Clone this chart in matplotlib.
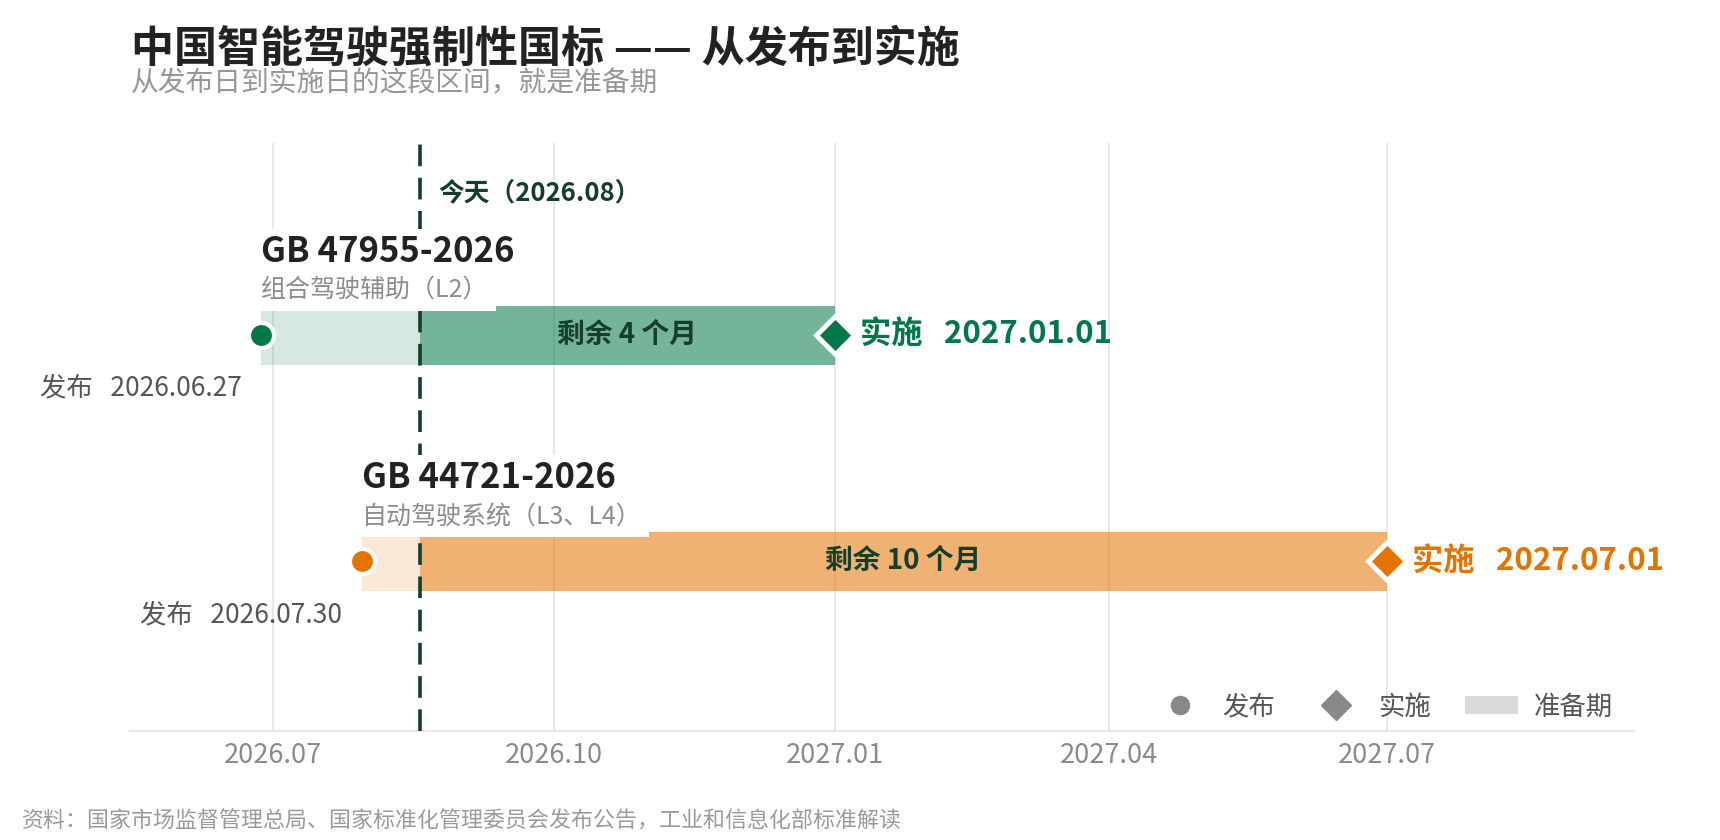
import numpy as np
import pandas as pd
import matplotlib
matplotlib.use('Agg')
import matplotlib.pyplot as plt
import matplotlib.dates as mdates
from matplotlib.lines import Line2D
from matplotlib.patches import Patch

plt.rcParams['font.family'] = ['Noto Sans CJK SC', 'DejaVu Sans']

# data
std_codes = ['GB 47955-2026', 'GB 44721-2026']
std_names = ['组合驾驶辅助（L2）', '自动驾驶系统（L3、L4）']
pub_dates = pd.to_datetime(['2026-06-27', '2026-07-30'])
impl_dates = pd.to_datetime(['2027-01-01', '2027-07-01'])
remain_labels = ['剩余 4 个月', '剩余 10 个月']
today = pd.Timestamp('2026-08-18')
today_label = '今天（2026.08）'
tick_dates = pd.to_datetime(['2026-07-01', '2026-10-01', '2027-01-01', '2027-04-01', '2027-07-01'])
row_colors = ['#027747', '#e37400']
row_y = [1, 0]

fig = plt.figure(figsize=(17.2, 8.4), dpi=100)
ax = fig.add_axes([130 / 1720, 1 - 731 / 840, (1634 - 130) / 1720, (731 - 143) / 840])

pub = mdates.date2num(pub_dates)
impl = mdates.date2num(impl_dates)
tnum = mdates.date2num(today)

for i in range(2):
    y = row_y[i]
    c = row_colors[i]
    # light part: publish -> today
    ax.barh(y, tnum - pub[i], left=pub[i], height=0.26, color=c, alpha=0.16, zorder=2, linewidth=0)
    # remaining part: today -> implementation
    ax.barh(y, impl[i] - tnum, left=tnum, height=0.26, color=c, alpha=0.55, zorder=2, linewidth=0)
    ax.plot(pub[i], y, 'o', ms=18, color=c, mec='white', mew=3, zorder=5)
    ax.plot(impl[i], y, 'D', ms=19, color=c, mec='white', mew=3.5, zorder=5)
    ax.text(pub[i], y + 0.37, std_codes[i], fontsize=25, fontweight='bold', color='#222222',
            ha='left', va='center', zorder=6,
            bbox=dict(boxstyle='square,pad=0.15', fc='white', ec='none'))
    ax.text(pub[i], y + 0.20, std_names[i], fontsize=18, color='#8c8c8c', ha='left', va='center',
            zorder=6, bbox=dict(boxstyle='square,pad=0.3', fc='white', ec='none'))
    ax.annotate('发布   ' + pub_dates[i].strftime('%Y.%m.%d'), xy=(pub[i], y - 0.235),
                xytext=(-14, 0), textcoords='offset points', ha='right', va='center',
                fontsize=19, color='#555555')
    ax.annotate('实施   ' + impl_dates[i].strftime('%Y.%m.%d'), xy=(impl[i], y),
                xytext=(18, 0), textcoords='offset points', ha='left', va='center',
                fontsize=22.5, fontweight='bold', color=c, zorder=6)
    ax.text((tnum + impl[i]) / 2, y, remain_labels[i], fontsize=20, fontweight='bold',
            color='#173d2b', ha='center', va='center', zorder=6)

# today line
ax.axvline(tnum, color='#143d2a', lw=2.6, linestyle=(0, (6, 3.2)), zorder=4)
ax.annotate(today_label, xy=(tnum, 1.63), xytext=(13, 0), textcoords='offset points',
            ha='left', va='center', fontsize=18.5, fontweight='bold', color='#143d2a')

ax.set_xlim(mdates.date2num(pd.Timestamp('2026-05-15')), mdates.date2num(pd.Timestamp('2027-09-20')))
ax.set_ylim(-0.75, 1.85)
ax.set_xticks(mdates.date2num(tick_dates))
ax.xaxis.set_major_formatter(mdates.DateFormatter('%Y.%m'))
ax.tick_params(axis='x', length=0, pad=8, labelsize=19.5, labelcolor='#8a8a8a')
ax.set_yticks([])
ax.grid(axis='x', color='#e6e9e8', lw=1.5, zorder=0)
ax.set_axisbelow(True)
for s in ['top', 'right', 'left']:
    ax.spines[s].set_visible(False)
ax.spines['bottom'].set_color('#e5e8e7')
ax.spines['bottom'].set_linewidth(1.5)

handles = [
    Line2D([], [], marker='o', ls='none', ms=13, color='#888888'),
    Line2D([], [], marker='D', ls='none', ms=15, color='#888888'),
    Patch(facecolor='#dadada', edgecolor='none'),
]
leg = ax.legend(handles, ['发布', '实施', '准备期'], loc='lower right', bbox_to_anchor=(0.993, 0.0),
                ncol=3, frameon=False, fontsize=19, handlelength=2.0, handletextpad=0.6,
                columnspacing=1.3, borderaxespad=0.0)
for t in leg.get_texts():
    t.set_color('#555555')

fig.text(131 / 1720, 1 - 48 / 840, '中国智能驾驶强制性国标 —— 从发布到实施', fontsize=31,
         fontweight='bold', color='#222222', ha='left', va='center')
fig.text(131 / 1720, 1 - 83 / 840, '从发布日到实施日的这段区间，就是准备期', fontsize=20,
         color='#969696', ha='left', va='center')
fig.text(22 / 1720, 1 - 822 / 840, '资料：国家市场监督管理总局、国家标准化管理委员会发布公告，工业和信息化部标准解读',
         fontsize=15.8, color='#9a9a9a', ha='left', va='center')

fig.savefig('out.png', dpi=100)
